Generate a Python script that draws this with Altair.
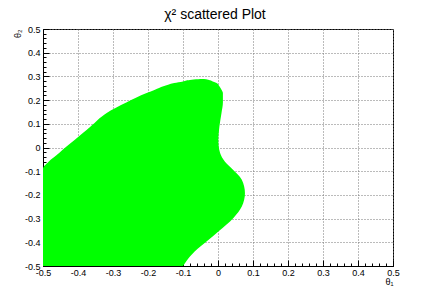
import altair as alt
import pandas as pd

# Region covered by the chi^2 scatter (boundary)
theta2_levels = [-0.5, -0.487, -0.438, -0.396, -0.354, -0.297, -0.249, -0.192, -0.136,
                 -0.09, -0.06, -0.023, 0.005, 0.033, 0.06, 0.089, 0.146, 0.19, 0.23,
                 0.244, 0.258, 0.272, 0.279, 0.286, 0.289]
theta1_left = [-0.5, -0.5, -0.5, -0.5, -0.5, -0.5, -0.5, -0.5, -0.5,
               -0.5, -0.484, -0.454, -0.432, -0.409, -0.387, -0.364, -0.318, -0.262, -0.204,
               -0.18, -0.156, -0.125, -0.1, -0.075, -0.05]
theta1_right = [-0.1, -0.094, -0.066, -0.032, 0.001, 0.044, 0.068, 0.077, 0.068,
                0.04, 0.02, 0.006, 0.002, 0.001, 0.002, 0.004, 0.01, 0.014, 0.014,
                0.01, 0.004, -0.004, -0.015, -0.028, -0.04]

major_ticks = [-0.5, -0.4, -0.3, -0.2, -0.1, 0.0, 0.1, 0.2, 0.3, 0.4, 0.5]
minor_ticks = [round(-0.5 + 0.02 * i, 2) for i in range(51)]

df = pd.DataFrame({"y": theta2_levels, "xl": theta1_left, "xr": theta1_right})

W, H = 350, 237
FONT = "Liberation Sans"
dom = alt.Scale(domain=[-0.5, 0.5], nice=False, zero=False)
label_expr = ("datum.value == 0 ? '0' : (datum.value < 0 ? '-' + format(-datum.value, '.1f') "
              ": format(datum.value, '.1f'))")

area = alt.Chart(df).mark_area(orient="horizontal", color="#00ff00", opacity=1,
                               interpolate="monotone").encode(
    y=alt.Y("y:Q", scale=dom, axis=alt.Axis(
        values=major_ticks, labelExpr=label_expr, ticks=False, grid=True,
        gridDash=[1, 2], gridColor="#777", gridOpacity=1, domainColor="black",
        labelFont=FONT, labelFontSize=9, labelColor="black", labelPadding=3,
        labelFlush=False, labelOverlap=False,
        title="θ₂", titleFont=FONT, titleFontSize=9, titleFontWeight="normal",
        titleAngle=270, titleAlign="right", titleBaseline="middle",
        titleX=-26, titleY=0, titleColor="black")),
    x=alt.X("xl:Q", scale=dom, axis=alt.Axis(
        values=major_ticks, labelExpr=label_expr, ticks=False, grid=True,
        gridDash=[1, 2], gridColor="#777", gridOpacity=1, domainColor="black",
        labelFont=FONT, labelFontSize=9, labelColor="black", labelPadding=2,
        labelFlush=False, labelOverlap=False,
        title="θ₁", titleFont=FONT, titleFontSize=9, titleFontWeight="normal",
        titleAlign="right", titleBaseline="top", titleX=W, titleY=11,
        titleColor="black")),
    x2="xr:Q",
)


def tick_layer(values, size):
    return alt.Chart(df).mark_point(opacity=0).encode(
        x=alt.X("xl:Q", scale=dom, axis=alt.Axis(
            orient="top", offset=-H, values=values, tickSize=size, tickColor="black",
            labels=False, grid=False, domain=False, title=None)),
        y=alt.Y("y:Q", scale=dom, axis=alt.Axis(
            orient="right", offset=-W, values=values, tickSize=size, tickColor="black",
            labels=False, grid=False, domain=False, title=None)),
    )


chart = alt.layer(area, tick_layer(major_ticks, 6), tick_layer(minor_ticks, 3)).resolve_scale(
    x="independent", y="independent"
).resolve_axis(x="independent", y="independent").properties(
    width=W, height=H,
    title=alt.TitleParams("χ² scattered Plot", font=FONT, fontSize=14, fontWeight="normal",
                          anchor="middle", offset=3, color="black", dx=-3),
    autosize=alt.AutoSizeParams(type="none"),
    padding={"left": 35, "top": 21, "right": 35, "bottom": 21},
).configure_view(stroke="black", strokeWidth=1)

chart.save("out.html", embed_options={"renderer": "svg", "actions": False})
